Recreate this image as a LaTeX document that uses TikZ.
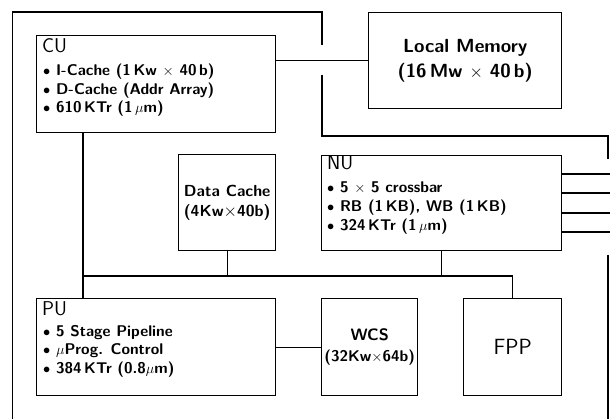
\documentclass[tikz,border=0pt]{standalone}
\usepackage{tikz}
\begin{document}
\sffamily
\begin{tikzpicture}[x=1pt,y=-1pt,
  box/.style={draw, line width=1.4pt, anchor=north west, inner sep=0pt},
  wire/.style={line width=1.4pt},
  ttl/.style={anchor=north west, inner sep=0pt, font=\fontsize{20}{22}\selectfont},
  bl/.style={anchor=north west, inner sep=0pt, align=left, font=\fontsize{15.5}{18.7}\selectfont\bfseries},
  ctr/.style={align=center, inner sep=0pt, font=\fontsize{16}{20.5}\selectfont\bfseries}]
\useasboundingbox (0,0) rectangle (610,419);
% boxes
\node[box, minimum width=239pt, minimum height=97pt] (cu) at (36,35) {};
\node[box, minimum width=193pt, minimum height=96pt] (lm) at (368,12) {};
\node[box, minimum width=97pt, minimum height=96pt] (dc) at (178,154) {};
\node[box, minimum width=240pt, minimum height=95pt] (nu) at (321,155) {};
\node[box, minimum width=239pt, minimum height=97pt] (pu) at (36,298) {};
\node[box, minimum width=96pt, minimum height=97pt] (wcs) at (321,298) {};
\node[box, minimum width=98pt, minimum height=97pt] (fpp) at (463,298) {};
% texts
\node[ttl] (cut) at (42,38) {CU};
\node[bl] (cub) at (43,63.5) {$\bullet$ I-Cache (1\,Kw $\times$ 40\,b)\\$\bullet$ D-Cache (Addr Array)\\$\bullet$ 610\,KTr (1\,$\mu$m)};
\node[ttl] (nut) at (327,155) {NU};
\node[bl] (nub) at (327,182) {$\bullet$ 5 $\times$ 5 crossbar\\$\bullet$ RB (1\,KB), WB (1\,KB)\\$\bullet$ 324\,KTr (1\,$\mu$m)};
\node[ttl] (put) at (42,301) {PU};
\node[bl] (pub) at (43,325) {$\bullet$ 5 Stage Pipeline\\$\bullet$ $\mu$Prog. Control\\$\bullet$ 384\,KTr (0.8$\mu$m)};
\node[ctr, font=\fontsize{19}{25}\selectfont\bfseries] (lmt) at (lm.center) {Local Memory\\(16\,Mw $\times$ 40\,b)};
\node[ctr] (dct) at (dc.center) {Data Cache\\(4Kw$\times$40b)};
\node[ctr, font=\fontsize{15.5}{21}\selectfont\bfseries] (wcst) at (wcs.center) {{\fontsize{16.5}{21}\selectfont WCS}\\(32Kw$\times$64b)};
\node[ctr, font=\fontsize{22}{25}\selectfont] (fppt) at (fpp.center) {FPP};
% frame coordinates
\coordinate (f1) at (12.5,419);
\coordinate (f2) at (12.5,12);
\coordinate (f3) at (322,12);
\coordinate (f4) at (322,45);
\coordinate (f5) at (322,75);
\coordinate (f6) at (322,136);
\coordinate (f7) at (608,136);
\coordinate (f8) at (608,159);
\coordinate (f9) at (608,255);
\coordinate (f10) at (608,419);
\draw[wire] (f1) -- (f2) -- (f3) -- (f4);
\draw[wire] (f5) -- (f6) -- (f7) -- (f8);
\draw[wire] (f9) -- (f10);
% connectors
\draw[wire] (lm.west) -- (lm.west -| cu.east);
\coordinate (bus) at (83,276);
\draw[wire] ([xshift=47pt]cu.south west) -- ([xshift=47pt]pu.north west);
\draw[wire] (bus) -- (bus -| fpp.north) -- (fpp.north);
\draw[wire] (dc.south) -- (dc.south |- bus);
\draw[wire] (nu.south) -- (nu.south |- bus);
\draw[wire] (pu.east) -- (wcs.west);
\coordinate (r1) at (610,174);
\coordinate (r2) at (610,193);
\coordinate (r3) at (610,213);
\coordinate (r4) at (610,232);
\draw[wire] (r1) -- (r1 -| nu.east);
\draw[wire] (r2) -- (r2 -| nu.east);
\draw[wire] (r3) -- (r3 -| nu.east);
\draw[wire] (r4) -- (r4 -| nu.east);
\end{tikzpicture}
\end{document}
